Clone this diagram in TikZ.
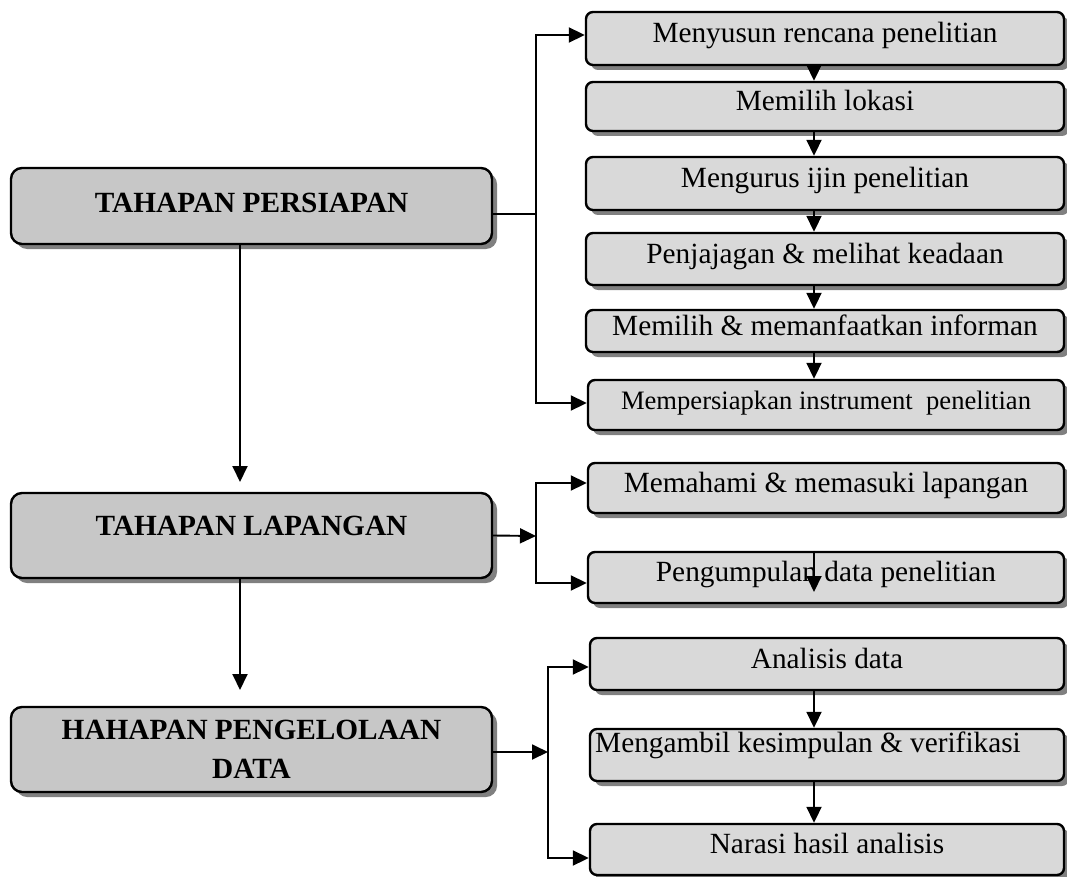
\documentclass[tikz,border=0pt]{standalone}
\usepackage{fontspec}
\setmainfont{Liberation Serif}
\usetikzlibrary{arrows.meta,shadows}

\begin{document}
\begin{tikzpicture}[x=1pt,y=-1pt,
  base/.style={draw=black, line width=2.4pt, inner sep=0pt,
    general shadow={fill=black!50, shadow xshift=5pt, shadow yshift=-5pt}},
  stage/.style={base, fill=black!22, rounded corners=11pt,
    minimum width=481pt, font=\fontsize{29.3}{39}\selectfont\bfseries},
  task/.style={base, fill=black!15, rounded corners=7pt,
    font=\fontsize{29.3}{35}\selectfont, text height=20pt, text depth=12pt},
  arr/.style={line width=1.9pt, -{Triangle[length=16pt,width=15pt]}},
  link/.style={line width=1.9pt}
]
\useasboundingbox (0,0) rectangle (1067,877);

% stages on the left
\node[stage, minimum height=76pt, text height=20pt, text depth=6pt] (P) at (251.5,206) {TAHAPAN PERSIAPAN};
\node[stage, minimum height=85pt, text height=20pt, text depth=21pt] (L) at (251.5,535.5) {TAHAPAN LAPANGAN};
\node[stage, minimum height=85pt, align=center] (D) at (251.5,749.5) {HAHAPAN PENGELOLAAN\\DATA};

% steps on the right
\node[task, minimum width=478pt, minimum height=53pt] (R1) at (825,38.5) {Menyusun rencana penelitian};
\node[task, minimum width=478pt, minimum height=49pt] (R2) at (825,106.5) {Memilih lokasi};
\node[task, minimum width=478pt, minimum height=53pt] (R3) at (825,183.5) {Mengurus ijin penelitian};
\node[task, minimum width=478pt, minimum height=52pt] (R4) at (825,259) {Penjajagan \& melihat keadaan};
\node[task, minimum width=478pt, minimum height=42pt] (R5) at (825,331) {Memilih \& memanfaatkan informan};
\node[task, minimum width=476pt, minimum height=50pt, font=\fontsize{26.6}{32}\selectfont] (R6) at (826,405) {Mempersiapkan instrument\ \ penelitian};
\node[task, minimum width=476pt, minimum height=50pt] (R7) at (826,488) {Memahami \& memasuki lapangan};
\node[task, minimum width=476pt, minimum height=51pt] (R8) at (826,577.5) {Pengumpulan data penelitian};
\node[task, minimum width=474pt, minimum height=52pt] (R9) at (827,664) {Analisis data};
\node[task, minimum width=474pt, minimum height=52pt] (R10) at (827,755) {};
\node[anchor=base west, inner sep=0pt, font=\fontsize{29.3}{35}\selectfont] (R10t) at (595,752) {Mengambil kesimpulan \& verifikasi};
\node[task, minimum width=474pt, minimum height=51pt] (R11) at (827,849.5) {Narasi hasil analisis};

% junction points
\coordinate (jP) at (536,214);
\coordinate (pTop) at (536,35);
\coordinate (pBot) at (536,403);
\coordinate (jL) at (536,536);
\coordinate (lTop) at (536,483);
\coordinate (lBot) at (536,583);
\coordinate (jD) at (548,752);
\coordinate (dTop) at (548,667);
\coordinate (dBot) at (548,858);
\coordinate (aP) at (240,482);
\coordinate (aL) at (240,690);
\coordinate (ax) at (814,0);
\coordinate (pgTip) at (814,592);

% stage to stage
\draw[arr] (P.south -| aP) -- (aP);
\draw[arr] (L.south -| aL) -- (aL);

% preparation branch
\draw[link] (P.east |- jP) -- (jP);
\draw[arr] (jP) -- (pTop) -- (R1.west |- pTop);
\draw[arr] (jP) -- (pBot) -- (R6.west |- pBot);

% field branch
\draw[arr] (L.east) -- (jL);
\draw[arr] (jL) -- (lTop) -- (R7.west |- lTop);
\draw[arr] (jL) -- (lBot) -- (R8.west |- lBot);

% data branch
\draw[arr] (D.east |- jD) -- (jD);
\draw[arr] (jD) -- (dTop) -- (R9.west |- dTop);
\draw[arr] (jD) -- (dBot) -- (R11.west |- dBot);

% step sequence
\draw[arr] (R1.south -| ax) -- (R2.north -| ax);
\draw[arr] (R2.south -| ax) -- (R3.north -| ax);
\draw[arr] (R3.south -| ax) -- (R4.north -| ax);
\draw[arr] (R4.south -| ax) -- (R5.north -| ax);
\draw[arr] (R5.south -| ax) -- (R6.north -| ax);
\draw[arr] (R8.north -| pgTip) -- (pgTip);
\draw[arr] (R9.south -| ax) -- (R10.north -| ax);
\draw[arr] (R10.south -| ax) -- (R11.north -| ax);
\end{tikzpicture}
\end{document}
